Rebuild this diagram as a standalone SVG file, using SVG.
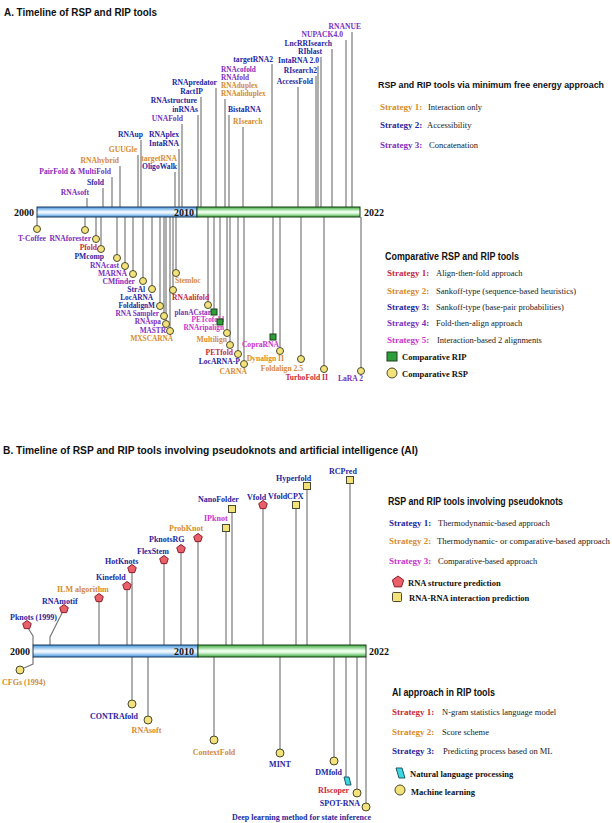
<svg xmlns="http://www.w3.org/2000/svg" width="612" height="823" viewBox="0 0 612 823">
<style>
.t{font-family:"Liberation Sans",Arial,sans-serif;font-weight:bold;font-size:11px;fill:#111}
.h{font-family:"Liberation Sans",Arial,sans-serif;font-weight:bold;font-size:10px;fill:#111}
.l{font-family:"Liberation Serif","Times New Roman",serif;font-weight:bold;font-size:7.6px}
.ls{font-family:"Liberation Serif","Times New Roman",serif;font-weight:bold;font-size:7.3px}
.lb{font-family:"Liberation Serif","Times New Roman",serif;font-weight:bold;font-size:8px}
.s{font-family:"Liberation Serif","Times New Roman",serif;font-weight:bold;font-size:9px}
.d{font-family:"Liberation Serif","Times New Roman",serif;font-size:8.5px;fill:#222}
.k{font-family:"Liberation Serif","Times New Roman",serif;font-weight:bold;font-size:8.5px;fill:#111}
.yr{font-family:"Liberation Serif","Times New Roman",serif;font-weight:bold;font-size:10px;fill:#111}
.o{fill:#d88b2e}.b{fill:#2626a0}.p{fill:#7b2fbe}.r{fill:#c8283a}.m{fill:#cc33cc}
.st{stroke:#7a7a7a;stroke-width:1.2;fill:none}
.c{fill:#f3e27a;stroke:#4a4a30;stroke-width:1}
.g{fill:#2e9e3a;stroke:#1d3d1d;stroke-width:1}
.q{fill:#f3e27a;stroke:#4a4a30;stroke-width:1}
.pt{fill:#e8606a;stroke:#8a1f2a;stroke-width:1}
.cy{fill:#3cd6e0;stroke:#1a5a66;stroke-width:1}
</style>
<defs>
<linearGradient id="gb" x1="0" y1="0" x2="0" y2="1">
<stop offset="0" stop-color="#3f92dc"/><stop offset="0.45" stop-color="#eaf5ff"/><stop offset="0.6" stop-color="#eaf5ff"/><stop offset="1" stop-color="#3f92dc"/>
</linearGradient>
<linearGradient id="gg" x1="0" y1="0" x2="0" y2="1">
<stop offset="0" stop-color="#3aa83a"/><stop offset="0.45" stop-color="#eaffea"/><stop offset="0.6" stop-color="#eaffea"/><stop offset="1" stop-color="#3aa83a"/>
</linearGradient>
<path id="pent" d="M0,-4.5 L4.28,-1.39 L2.65,3.64 L-2.65,3.64 L-4.28,-1.39 Z"/>
</defs>

<!-- ================= PANEL A ================= -->
<text class="t" x="4" y="16" textLength="153" lengthAdjust="spacingAndGlyphs">A. Timeline of RSP and RIP tools</text>

<g id="connectorsA">
<line class="st" x1="87" y1="198" x2="87" y2="207"/>
<line class="st" x1="103" y1="188" x2="103" y2="207"/>
<line class="st" x1="112" y1="177" x2="112" y2="207"/>
<line class="st" x1="120" y1="166" x2="120" y2="207"/>
<line class="st" x1="138" y1="155" x2="138" y2="207"/>
<line class="st" x1="141" y1="140" x2="141" y2="207"/>
<line class="st" x1="175" y1="172" x2="175" y2="207"/>
<line class="st" x1="179" y1="149" x2="179" y2="207"/>
<line class="st" x1="182" y1="124" x2="182" y2="207"/>
<line class="st" x1="198" y1="115" x2="198" y2="207"/>
<line class="st" x1="201" y1="97" x2="201" y2="207"/>
<line class="st" x1="216" y1="88" x2="216" y2="207"/>
<line class="st" x1="225" y1="99" x2="225" y2="207"/>
<line class="st" x1="229" y1="115" x2="229" y2="207"/>
<line class="st" x1="243" y1="127" x2="243" y2="207"/>
<line class="st" x1="272" y1="64" x2="272" y2="207"/>
<line class="st" x1="298" y1="87" x2="298" y2="207"/>
<line class="st" x1="316" y1="76" x2="316" y2="207"/>
<line class="st" x1="318" y1="66" x2="318" y2="207"/>
<line class="st" x1="321" y1="57" x2="321" y2="207"/>
<line class="st" x1="332" y1="49" x2="332" y2="207"/>
<line class="st" x1="346" y1="40" x2="346" y2="207"/>
<line class="st" x1="352" y1="32" x2="352" y2="207"/>
<line class="st" x1="37" y1="217" x2="37" y2="229"/>
<line class="st" x1="85" y1="217" x2="85" y2="230"/>
<line class="st" x1="96" y1="217" x2="96" y2="239"/>
<line class="st" x1="101" y1="217" x2="101" y2="249"/>
<line class="st" x1="117" y1="217" x2="117" y2="258"/>
<line class="st" x1="125" y1="217" x2="125" y2="266"/>
<line class="st" x1="133" y1="217" x2="133" y2="274"/>
<line class="st" x1="143" y1="217" x2="143" y2="281"/>
<line class="st" x1="152" y1="217" x2="152" y2="289"/>
<line class="st" x1="160" y1="217" x2="160" y2="306"/>
<line class="st" x1="164" y1="217" x2="164" y2="316"/>
<line class="st" x1="166" y1="217" x2="166" y2="324"/>
<line class="st" x1="170" y1="217" x2="170" y2="331"/>
<line class="st" x1="173" y1="217" x2="173" y2="290"/>
<line class="st" x1="176" y1="217" x2="176" y2="273"/>
<line class="st" x1="208" y1="217" x2="208" y2="305"/>
<line class="st" x1="214" y1="217" x2="214" y2="312"/>
<line class="st" x1="220" y1="217" x2="220" y2="322"/>
<line class="st" x1="227" y1="217" x2="227" y2="333"/>
<line class="st" x1="230" y1="217" x2="230" y2="345"/>
<line class="st" x1="238" y1="217" x2="238" y2="354"/>
<line class="st" x1="244" y1="217" x2="244" y2="364"/>
<line class="st" x1="273" y1="217" x2="273" y2="337"/>
<line class="st" x1="280" y1="217" x2="280" y2="351"/>
<line class="st" x1="301" y1="217" x2="301" y2="359"/>
<line class="st" x1="324" y1="217" x2="324" y2="369"/>
<line class="st" x1="361" y1="217" x2="361" y2="371"/>
</g>

<g id="timelineA">
<rect x="37" y="207" width="160" height="10" fill="url(#gb)" stroke="#1b3a57" stroke-width="1"/>
<rect x="197" y="207" width="163" height="10" fill="url(#gg)" stroke="#1b3d1b" stroke-width="1"/>
<text class="yr" x="14" y="216">2000</text>
<text class="yr" x="194" y="216" text-anchor="end">2010</text>
<text class="yr" x="364" y="216">2022</text>
</g>

<g id="nodesA-above">
<text class="l p" x="89" y="195" text-anchor="end">RNAsoft</text>
<text class="l b" x="104" y="185" text-anchor="end">Sfold</text>
<text class="l p" x="111" y="174" text-anchor="end">PairFold &amp; MultiFold</text>
<text class="l o" x="119" y="163" text-anchor="end">RNAhybrid</text>
<text class="l o" x="137" y="152" text-anchor="end">GUUGle</text>
<text class="l b" x="143" y="137" text-anchor="end">RNAup</text>
<text class="l o" x="177" y="161" text-anchor="end">targetRNA</text>
<text class="l b" x="177" y="169" text-anchor="end">OligoWalk</text>
<text class="l b" x="179" y="137" text-anchor="end">RNAplex</text>
<text class="l b" x="179" y="146" text-anchor="end">IntaRNA</text>
<text class="l p" x="183" y="121" text-anchor="end">UNAFold</text>
<text class="l b" x="197" y="103" text-anchor="end">RNAstructure</text>
<text class="l b" x="198" y="112" text-anchor="end">inRNAs</text>
<text class="l b" x="217" y="85" text-anchor="end">RNApredator</text>
<text class="l b" x="203" y="94" text-anchor="end">RactIP</text>
<text class="ls p" x="221" y="72">RNAcofold</text>
<text class="ls p" x="221" y="80">RNAfold</text>
<text class="ls o" x="221" y="88">RNAduplex</text>
<text class="ls o" x="221" y="96">RNAaliduplex</text>
<text class="l b" x="228" y="112">BistaRNA</text>
<text class="l o" x="233" y="124">RIsearch</text>
<text class="l b" x="273" y="62" text-anchor="end">targetRNA2</text>
<text class="l b" x="319" y="63" text-anchor="end">IntaRNA 2.0</text>
<text class="l b" x="317" y="73" text-anchor="end">RIsearch2</text>
<text class="l b" x="313" y="84" text-anchor="end">AccessFold</text>
<text class="l b" x="332" y="46" text-anchor="end">LncRRIsearch</text>
<text class="l b" x="322" y="54" text-anchor="end">RIblast</text>
<text class="l p" x="343" y="37" text-anchor="end">NUPACK4.0</text>
<text class="l p" x="361" y="29" text-anchor="end">RNANUE</text>
</g>

<g id="nodesA-below">
<circle class="c" cx="37" cy="229" r="3.5"/><text class="l p" x="18" y="241">T-Coffee</text>
<circle class="c" cx="85" cy="230" r="3.5"/><text class="l p" x="91" y="241" text-anchor="end">RNAforester</text>
<circle class="c" cx="96" cy="239" r="3.5"/><text class="l r" x="97" y="250" text-anchor="end">Pfold</text>
<circle class="c" cx="101" cy="249" r="3.5"/><text class="l b" x="104" y="259" text-anchor="end">PMcomp</text>
<circle class="c" cx="117" cy="258" r="3.5"/><text class="l p" x="119" y="268" text-anchor="end">RNAcast</text>
<circle class="c" cx="125" cy="266" r="3.5"/><text class="l p" x="127" y="276" text-anchor="end">MARNA</text>
<circle class="c" cx="133" cy="274" r="3.5"/><text class="l p" x="135" y="284" text-anchor="end">CMfinder</text>
<circle class="c" cx="143" cy="281" r="3.5"/><text class="l b" x="145" y="292" text-anchor="end">StrAl</text>
<circle class="c" cx="152" cy="289" r="3.5"/><text class="ls b" x="153" y="300" text-anchor="end">LocARNA</text>
<circle class="c" cx="160" cy="306" r="3.5"/><text class="ls b" x="155" y="307.5" text-anchor="end">FoldalignM</text>
<circle class="c" cx="164" cy="316" r="3.5"/><text class="ls p" x="159" y="315.5" text-anchor="end">RNA Sampler</text>
<circle class="c" cx="166" cy="324" r="3.5"/><text class="ls p" x="161" y="324" text-anchor="end">RNAspa</text>
<circle class="c" cx="170" cy="331" r="3.5"/><text class="ls p" x="166" y="332.5" text-anchor="end">MASTR</text>
<text class="ls o" x="173" y="340.5" text-anchor="end">MXSCARNA</text>
<circle class="c" cx="176" cy="273" r="3.5"/><text class="l o" x="175" y="283">Stemloc</text>
<circle class="c" cx="173" cy="290" r="3.5"/><text class="l r" x="172" y="300">RNAalifold</text>
<circle class="c" cx="208" cy="305" r="3.5"/><text class="ls p" x="211" y="314.5" text-anchor="end">planACstar</text>
<rect class="g" x="211" y="309" width="6" height="6"/><text class="ls m" x="224" y="322" text-anchor="end">PETcofold</text>
<rect class="g" x="217" y="319" width="6" height="6"/><text class="ls m" x="224" y="330" text-anchor="end">RNAripalign</text>
<circle class="c" cx="227" cy="333" r="3.5"/><text class="l o" x="227" y="342" text-anchor="end">Multilign</text>
<circle class="c" cx="230" cy="345" r="3.5"/><text class="l r" x="233" y="355" text-anchor="end">PETfold</text>
<circle class="c" cx="238" cy="354" r="3.5"/><text class="l b" x="240" y="364" text-anchor="end">LocARNA-P</text>
<circle class="c" cx="244" cy="364" r="3.5"/><text class="l o" x="247" y="374" text-anchor="end">CARNA</text>
<rect class="g" x="270" y="334" width="6" height="6"/><text class="l m" x="279" y="347" text-anchor="end">CopraRNA</text>
<circle class="c" cx="280" cy="351" r="3.5"/><text class="l o" x="284" y="361" text-anchor="end">Dynalign II</text>
<circle class="c" cx="301" cy="359" r="3.5"/><text class="l o" x="303" y="371" text-anchor="end">Foldalign 2.5</text>
<circle class="c" cx="324" cy="369" r="3.5"/><text class="l r" x="328" y="380" text-anchor="end">TurboFold II</text>
<circle class="c" cx="361" cy="371" r="3.5"/><text class="l p" x="363" y="381" text-anchor="end">LaRA 2</text>
</g>

<g id="legendA1">
<text class="h" x="378" y="88" style="font-size:9px" textLength="226" lengthAdjust="spacingAndGlyphs">RSP and RIP tools via minimum free energy approach</text>
<text class="s o" x="380" y="110">Strategy 1:</text><text class="d" x="428" y="110">Interaction only</text>
<text class="s b" x="380" y="128">Strategy 2:</text><text class="d" x="427" y="128">Accessibility</text>
<text class="s p" x="380" y="148">Strategy 3:</text><text class="d" x="429" y="148">Concatenation</text>
</g>

<g id="legendA2">
<text class="h" x="385" y="260" textLength="134" lengthAdjust="spacingAndGlyphs">Comparative  RSP and RIP tools</text>
<text class="s r" x="387" y="276">Strategy 1:</text><text class="d" x="436" y="276">Align-then-fold approach</text>
<text class="s o" x="387" y="294">Strategy 2:</text><text class="d" x="436" y="294">Sankoff-type (sequence-based heuristics)</text>
<text class="s b" x="387" y="310">Strategy 3:</text><text class="d" x="436" y="310">Sankoff-type (base-pair probabilities)</text>
<text class="s p" x="387" y="326">Strategy 4:</text><text class="d" x="436" y="326">Fold-then-align approach</text>
<text class="s m" x="387" y="343">Strategy 5:</text><text class="d" x="437" y="343">Interaction-based 2 alignments</text>
<rect class="g" x="387" y="352" width="10" height="9"/><text class="k" x="402" y="360">Comparative RIP</text>
<circle class="c" cx="392" cy="373" r="5"/><text class="k" x="402" y="377">Comparative RSP</text>
</g>

<!-- ================= PANEL B ================= -->
<text class="t" x="3" y="454" textLength="415" lengthAdjust="spacingAndGlyphs">B. Timeline of RSP and RIP tools involving pseudoknots and artificial intelligence (AI)</text>

<g id="connectorsB">
<polyline class="st" points="28,628 33,636 33,645"/>
<polyline class="st" points="62,613 50,637 50,645"/>
<polyline class="st" points="33,657 33,664 24,668"/>
<line class="st" x1="99" y1="602" x2="99" y2="645"/>
<line class="st" x1="127" y1="590" x2="127" y2="645"/>
<line class="st" x1="132" y1="573" x2="132" y2="645"/>
<line class="st" x1="164" y1="564" x2="164" y2="645"/>
<line class="st" x1="181" y1="553" x2="181" y2="645"/>
<line class="st" x1="198" y1="542" x2="198" y2="645"/>
<line class="st" x1="226" y1="532" x2="226" y2="645"/>
<line class="st" x1="232" y1="513" x2="232" y2="645"/>
<line class="st" x1="263" y1="509" x2="263" y2="645"/>
<line class="st" x1="296" y1="509" x2="296" y2="645"/>
<line class="st" x1="307" y1="490" x2="307" y2="645"/>
<line class="st" x1="350" y1="484" x2="350" y2="645"/>
<line class="st" x1="132" y1="657" x2="132" y2="700"/>
<line class="st" x1="148" y1="657" x2="148" y2="716"/>
<line class="st" x1="214" y1="657" x2="214" y2="736"/>
<line class="st" x1="280" y1="657" x2="280" y2="749"/>
<line class="st" x1="334" y1="657" x2="334" y2="757"/>
<line class="st" x1="346" y1="657" x2="346" y2="777"/>
<line class="st" x1="357" y1="657" x2="357" y2="789"/>
<line class="st" x1="366" y1="657" x2="366" y2="803"/>
</g>

<g id="timelineB">
<rect x="33" y="645" width="165" height="12" fill="url(#gb)" stroke="#1b3a57" stroke-width="1"/>
<rect x="198" y="645" width="168" height="12" fill="url(#gg)" stroke="#1b3d1b" stroke-width="1"/>
<text class="yr" x="10" y="655">2000</text>
<text class="yr" x="194" y="655" text-anchor="end">2010</text>
<text class="yr" x="369" y="655">2022</text>
</g>

<g id="nodesB-above">
<use href="#pent" class="pt" x="27" y="625"/><text class="lb b" x="10" y="620">Pknots (1999)</text>
<use href="#pent" class="pt" x="64" y="609"/><text class="lb b" x="42" y="604">RNAmotif</text>
<use href="#pent" class="pt" x="99" y="598"/><text class="lb o" x="57" y="592">ILM algorithm</text>
<use href="#pent" class="pt" x="127" y="586"/><text class="lb b" x="96" y="580">Kinefold</text>
<use href="#pent" class="pt" x="132" y="569"/><text class="lb b" x="105" y="564">HotKnots</text>
<use href="#pent" class="pt" x="164" y="560"/><text class="lb b" x="137" y="554">FlexStem</text>
<use href="#pent" class="pt" x="181" y="549"/><text class="lb b" x="149" y="542">PknotsRG</text>
<use href="#pent" class="pt" x="198" y="538"/><text class="lb o" x="169" y="531">ProbKnot</text>
<rect class="q" x="222.5" y="524.5" width="7" height="7"/><text class="lb m" x="204" y="521">IPknot</text>
<rect class="q" x="228.5" y="505.5" width="7" height="7"/><text class="lb b" x="198" y="502">NanoFolder</text>
<use href="#pent" class="pt" x="263" y="505"/><text class="lb b" x="247" y="500">Vfold</text>
<rect class="q" x="292.5" y="501.5" width="7" height="7"/><text class="lb b" x="268" y="499">VfoldCPX</text>
<rect class="q" x="303.5" y="482.5" width="7" height="7"/><text class="lb b" x="276" y="481">Hyperfold</text>
<rect class="q" x="346.5" y="476.5" width="7" height="7"/><text class="lb b" x="329" y="474">RCPred</text>
</g>

<g id="nodesB-below">
<circle class="c" cx="20" cy="670" r="4"/><text class="lb o" x="2" y="685">CFGs (1994)</text>
<circle class="c" cx="132" cy="704" r="4"/><text class="lb b" x="138" y="719" text-anchor="end">CONTRAfold</text>
<circle class="c" cx="148" cy="720" r="4"/><text class="lb o" x="146.5" y="733" text-anchor="middle">RNAsoft</text>
<circle class="c" cx="214" cy="740" r="4"/><text class="lb o" x="214" y="755" text-anchor="middle">ContextFold</text>
<circle class="c" cx="280" cy="753" r="4"/><text class="lb b" x="280" y="767" text-anchor="middle">MINT</text>
<circle class="c" cx="334" cy="761" r="4"/><text class="lb b" x="342" y="775" text-anchor="end">DMfold</text>
<polygon class="cy" points="344,777 349,777 351,785 346,785"/><text class="lb r" x="349" y="793" text-anchor="end">RIscoper</text>
<circle class="c" cx="357" cy="793" r="4"/><text class="lb b" x="360" y="806" text-anchor="end">SPOT-RNA</text>
<circle class="c" cx="366" cy="807" r="4"/><text class="lb b" x="371" y="820" text-anchor="end">Deep learning method for state inference</text>
</g>

<g id="legendB1">
<text class="h" x="388" y="505" textLength="175" lengthAdjust="spacingAndGlyphs">RSP and RIP tools involving  pseudoknots</text>
<text class="s b" x="389" y="526">Strategy 1:</text><text class="d" x="438" y="526">Thermodynamic-based approach</text>
<text class="s o" x="389" y="544">Strategy 2:</text><text class="d" x="437" y="544" textLength="173" lengthAdjust="spacingAndGlyphs">Thermodynamic- or comparative-based approach</text>
<text class="s m" x="389" y="564">Strategy 3:</text><text class="d" x="438" y="564">Comparative-based approach</text>
<path class="pt" d="M398,576 L403.7,580.1 L401.5,586.9 L394.5,586.9 L392.3,580.1 Z"/><text class="k" x="408" y="586">RNA structure prediction</text>
<rect class="q" x="392.5" y="592.5" width="9" height="9" rx="1"/><text class="k" x="409" y="601">RNA-RNA interaction prediction</text>
</g>

<g id="legendB2">
<text class="h" x="392" y="696" textLength="103" lengthAdjust="spacingAndGlyphs">AI approach  in RIP tools</text>
<text class="s r" x="392" y="715">Strategy 1:</text><text class="d" x="442" y="715">N-gram statistics language model</text>
<text class="s o" x="392" y="735">Strategy 2:</text><text class="d" x="442" y="735">Score scheme</text>
<text class="s b" x="392" y="754">Strategy 3:</text><text class="d" x="443" y="754">Predicting process based on ML</text>
<polygon class="cy" points="396,768 402,768 405,778 399,778"/><text class="k" x="410" y="777">Natural language processing</text>
<circle class="c" cx="400" cy="790" r="5"/><text class="k" x="411" y="795">Machine learning</text>
</g>
</svg>
